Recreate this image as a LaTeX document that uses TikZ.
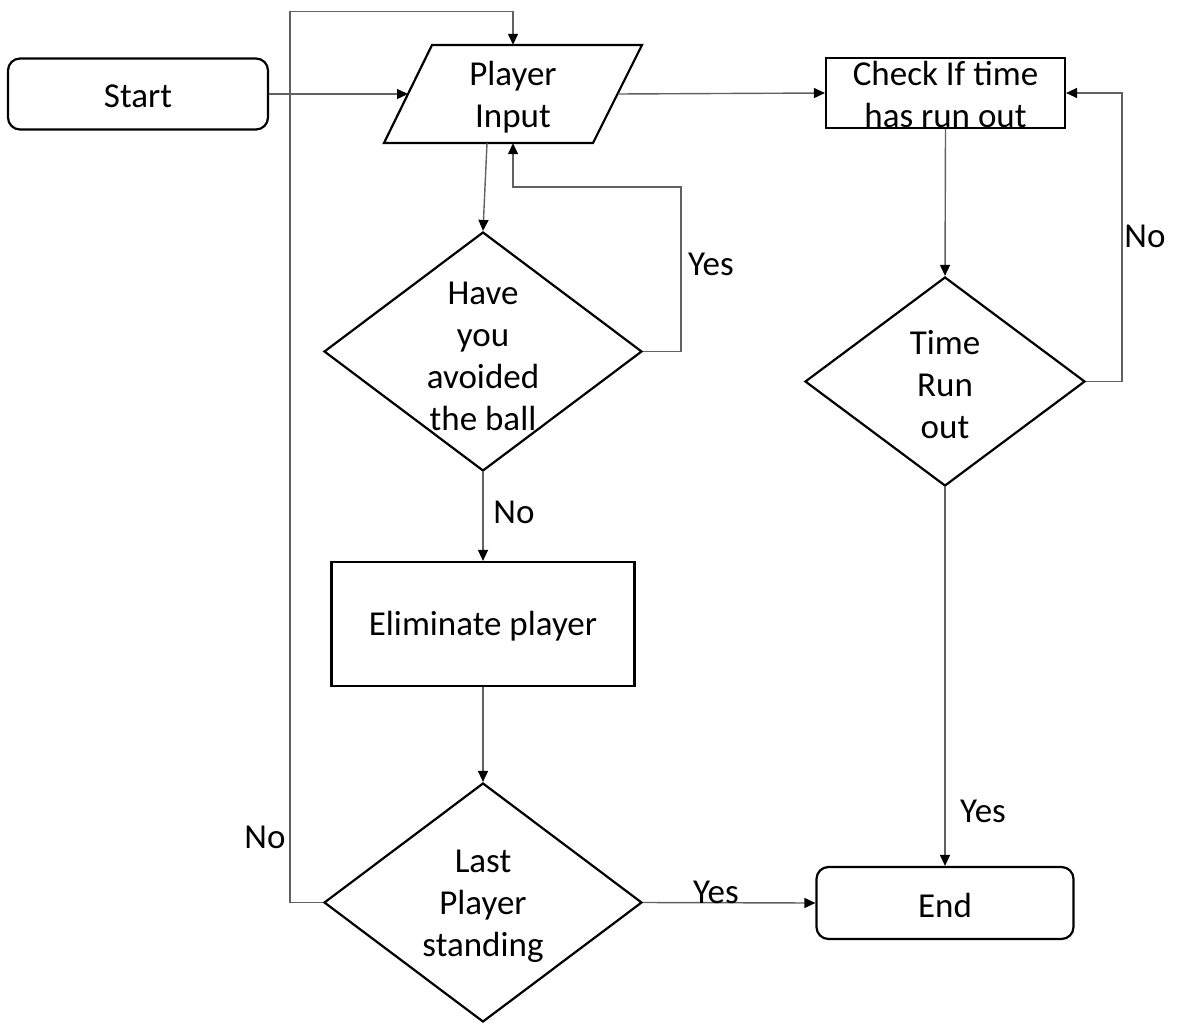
\documentclass[tikz,border=0pt]{standalone}
\usepackage{fontspec}
\setmainfont{Carlito}
\usetikzlibrary{shapes.geometric,arrows.meta,calc}
\begin{document}
\begin{tikzpicture}[x=1pt,y=-1pt,
  every node/.style={font=\fontsize{35}{42}\selectfont, inner sep=0pt},
  outline/.style={draw=black, line width=2.2pt},
  term/.style={outline, rectangle, rounded corners=12pt},
  procbox/.style={outline, rectangle},
  decision/.style={outline, diamond},
  txt/.style={align=center, yshift=-2.5pt},
  conn/.style={draw=black!62, line width=1.4pt, -{Triangle[length=11pt,width=10pt,color=black]}}
]
\useasboundingbox (0,0) rectangle (1177,1024);

% terminals
\node[term, minimum width=260, minimum height=71] (start) at (138,94) {};
\node[txt] (startt) at (start) {Start};
\node[term, minimum width=257, minimum height=72] (end) at (945,903) {};
\node[txt] (endt) at (end) {End};

% input (parallelogram drawn around its text node)
\node[minimum width=210, minimum height=98] (inp) at (513,94) {};
\node[txt] (inpt) at (513,95) {Player\\Input};
\draw[outline] ($(inp.center)+(-129,49)$) -- ($(inp.center)+(-81,-49)$)
  -- ($(inp.center)+(129,-49)$) -- ($(inp.center)+(80,49)$) -- cycle;
\coordinate (inpL) at ($(inp.center)+(-105,0)$);
\coordinate (inpR) at ($(inp.center)+(105,0)$);
\coordinate (inpB) at ($(inp.center)+(-26,49)$);

% process boxes
\node[procbox, minimum width=239, minimum height=70] (chk) at (945.5,93) {};
\node[txt] (chkt) at (945.5,91.5) {Check If time\\has run out};
\node[procbox, minimum width=303, minimum height=124] (elim) at (483,624) {};
\node[txt] (elimt) at (elim) {Eliminate player};

% decisions
\node[decision, minimum width=318, minimum height=239] (d1) at (483,351.5) {};
\node[txt] (d1t) at (483,354) {Have\\you\\avoided\\the ball};
\node[decision, minimum width=280, minimum height=209] (d2) at (945,381.5) {};
\node[txt] (d2t) at (945,382) {Time\\Run\\out};
\node[decision, minimum width=318, minimum height=239] (d3) at (483,902.5) {};
\node[txt] (d3t) at (483,904) {Last\\Player\\standing};

% connectors
\draw[conn] (start.east) -- (inpL);
\draw[conn] (inpR) -- (chk.west);
\draw[conn] (inpB) -- (d1.north);
\draw[conn] (d1.east) -- ++(38,0) |- ($(inp.south)+(0,44)$) -- (inp.south);
\draw[conn] (d1.south) -- (elim.north);
\draw[conn] (elim.south) -- (d3.north);
\draw[conn] (d3.west) -- ++(-33,0) |- ($(inp.north)+(0,-33)$) -- (inp.north);
\draw[conn] (d3.east) -- (end.west);
\draw[conn] (chk.south) -- (d2.north);
\draw[conn] (d2.east) -- ++(36,0) |- (chk.east);
\draw[conn] (d2.south) -- (end.north);

% branch labels
\node[txt] (yes1) at (711,262) {Yes};
\node[txt] (no1) at (514,510) {No};
\node[txt] (no2) at (1145,234) {No};
\node[txt] (yes2) at (983,809) {Yes};
\node[txt] (no3) at (265,835) {No};
\node[txt] (yes3) at (716,890) {Yes};
\end{tikzpicture}
\end{document}
